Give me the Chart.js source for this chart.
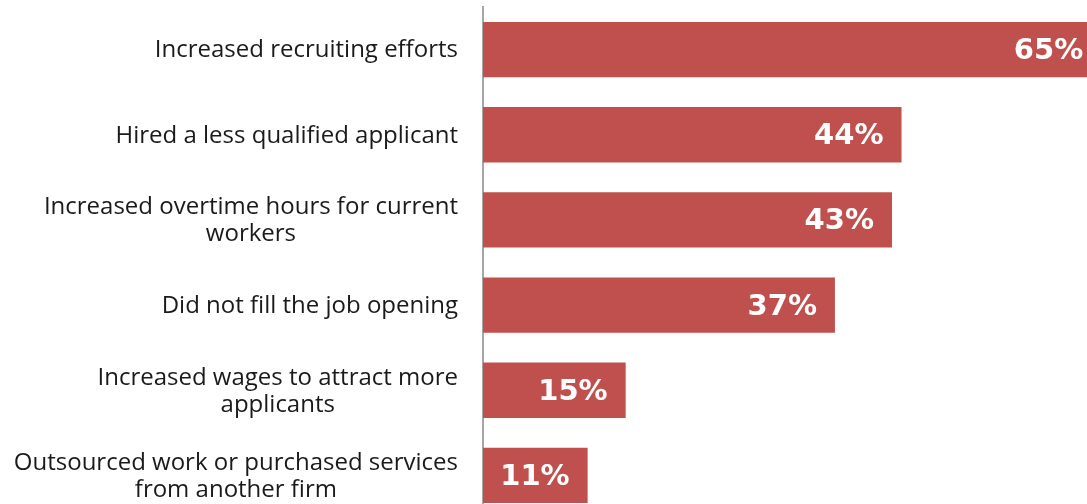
<!DOCTYPE html>
<html>
<head>
<meta charset="utf-8">
<script src="https://cdn.jsdelivr.net/npm/chart.js@4"></script>
<style>
  html, body { margin: 0; padding: 0; background: #fff; overflow: hidden; }
  #wrap { width: 1087px; height: 518px; }
</style>
</head>
<body>
<div id="wrap"><canvas id="barChart"></canvas></div>
<script>
const categories = [
    ['Increased recruiting efforts'],
    ['Hired a less qualified applicant'],
    ['Increased overtime hours for current', 'workers'],
    ['Did not fill the job opening'],
    ['Increased wages to attract more', 'applicants'],
    ['Outsourced work or purchased services', 'from another firm']
];
const percentValues = [65, 44, 43, 37, 15, 11];
const valueLabels = ['65%', '44%', '43%', '37%', '15%', '11%'];

// draws the category labels (block right aligned, lines centred) and the values inside the bars
const labelPlugin = {
    id: 'labelPlugin',
    afterDatasetsDraw(chart) {
        const ctx = chart.ctx;
        const yScale = chart.scales.y;
        const meta = chart.getDatasetMeta(0);
        ctx.save();

        ctx.font = '24px "Open Sans"';
        ctx.fillStyle = '#1a1a1a';
        ctx.textAlign = 'center';
        ctx.textBaseline = 'middle';
        const rightEdge = yScale.right - 25;
        const lineHeight = 27;
        categories.forEach((lines, i) => {
            const y = yScale.getPixelForTick(i) + 1;
            const widest = Math.max(...lines.map(l => ctx.measureText(l).width));
            const cx = rightEdge - widest / 2;
            const top = y - (lines.length - 1) * lineHeight / 2;
            lines.forEach((line, j) => ctx.fillText(line, cx, top + j * lineHeight));
        });

        ctx.font = 'bold 29px "DejaVu Sans"';
        ctx.fillStyle = '#ffffff';
        ctx.textAlign = 'right';
        meta.data.forEach((bar, i) => {
            ctx.fillText(valueLabels[i], bar.x - 18, bar.y + 2);
        });
        ctx.restore();
    }
};

new Chart(document.getElementById('barChart'), {
    type: 'bar',
    data: {
        labels: categories,
        datasets: [{
            data: percentValues,
            backgroundColor: '#C0504D',
            categoryPercentage: 1,
            barPercentage: 0.65
        }]
    },
    options: {
        indexAxis: 'y',
        responsive: true,
        maintainAspectRatio: false,
        animation: false,
        layout: { padding: { top: 7, left: 0, right: 0, bottom: 0 } },
        plugins: {
            legend: { display: false },
            tooltip: { enabled: false }
        },
        scales: {
            x: {
                display: false,
                min: 0,
                max: 63.5
            },
            y: {
                ticks: { display: false },
                grid: { display: false },
                border: { display: true, color: '#a6a6a6', width: 2 },
                afterFit(scale) { scale.width = 483; }
            }
        }
    },
    plugins: [labelPlugin]
});
</script>
</body>
</html>
